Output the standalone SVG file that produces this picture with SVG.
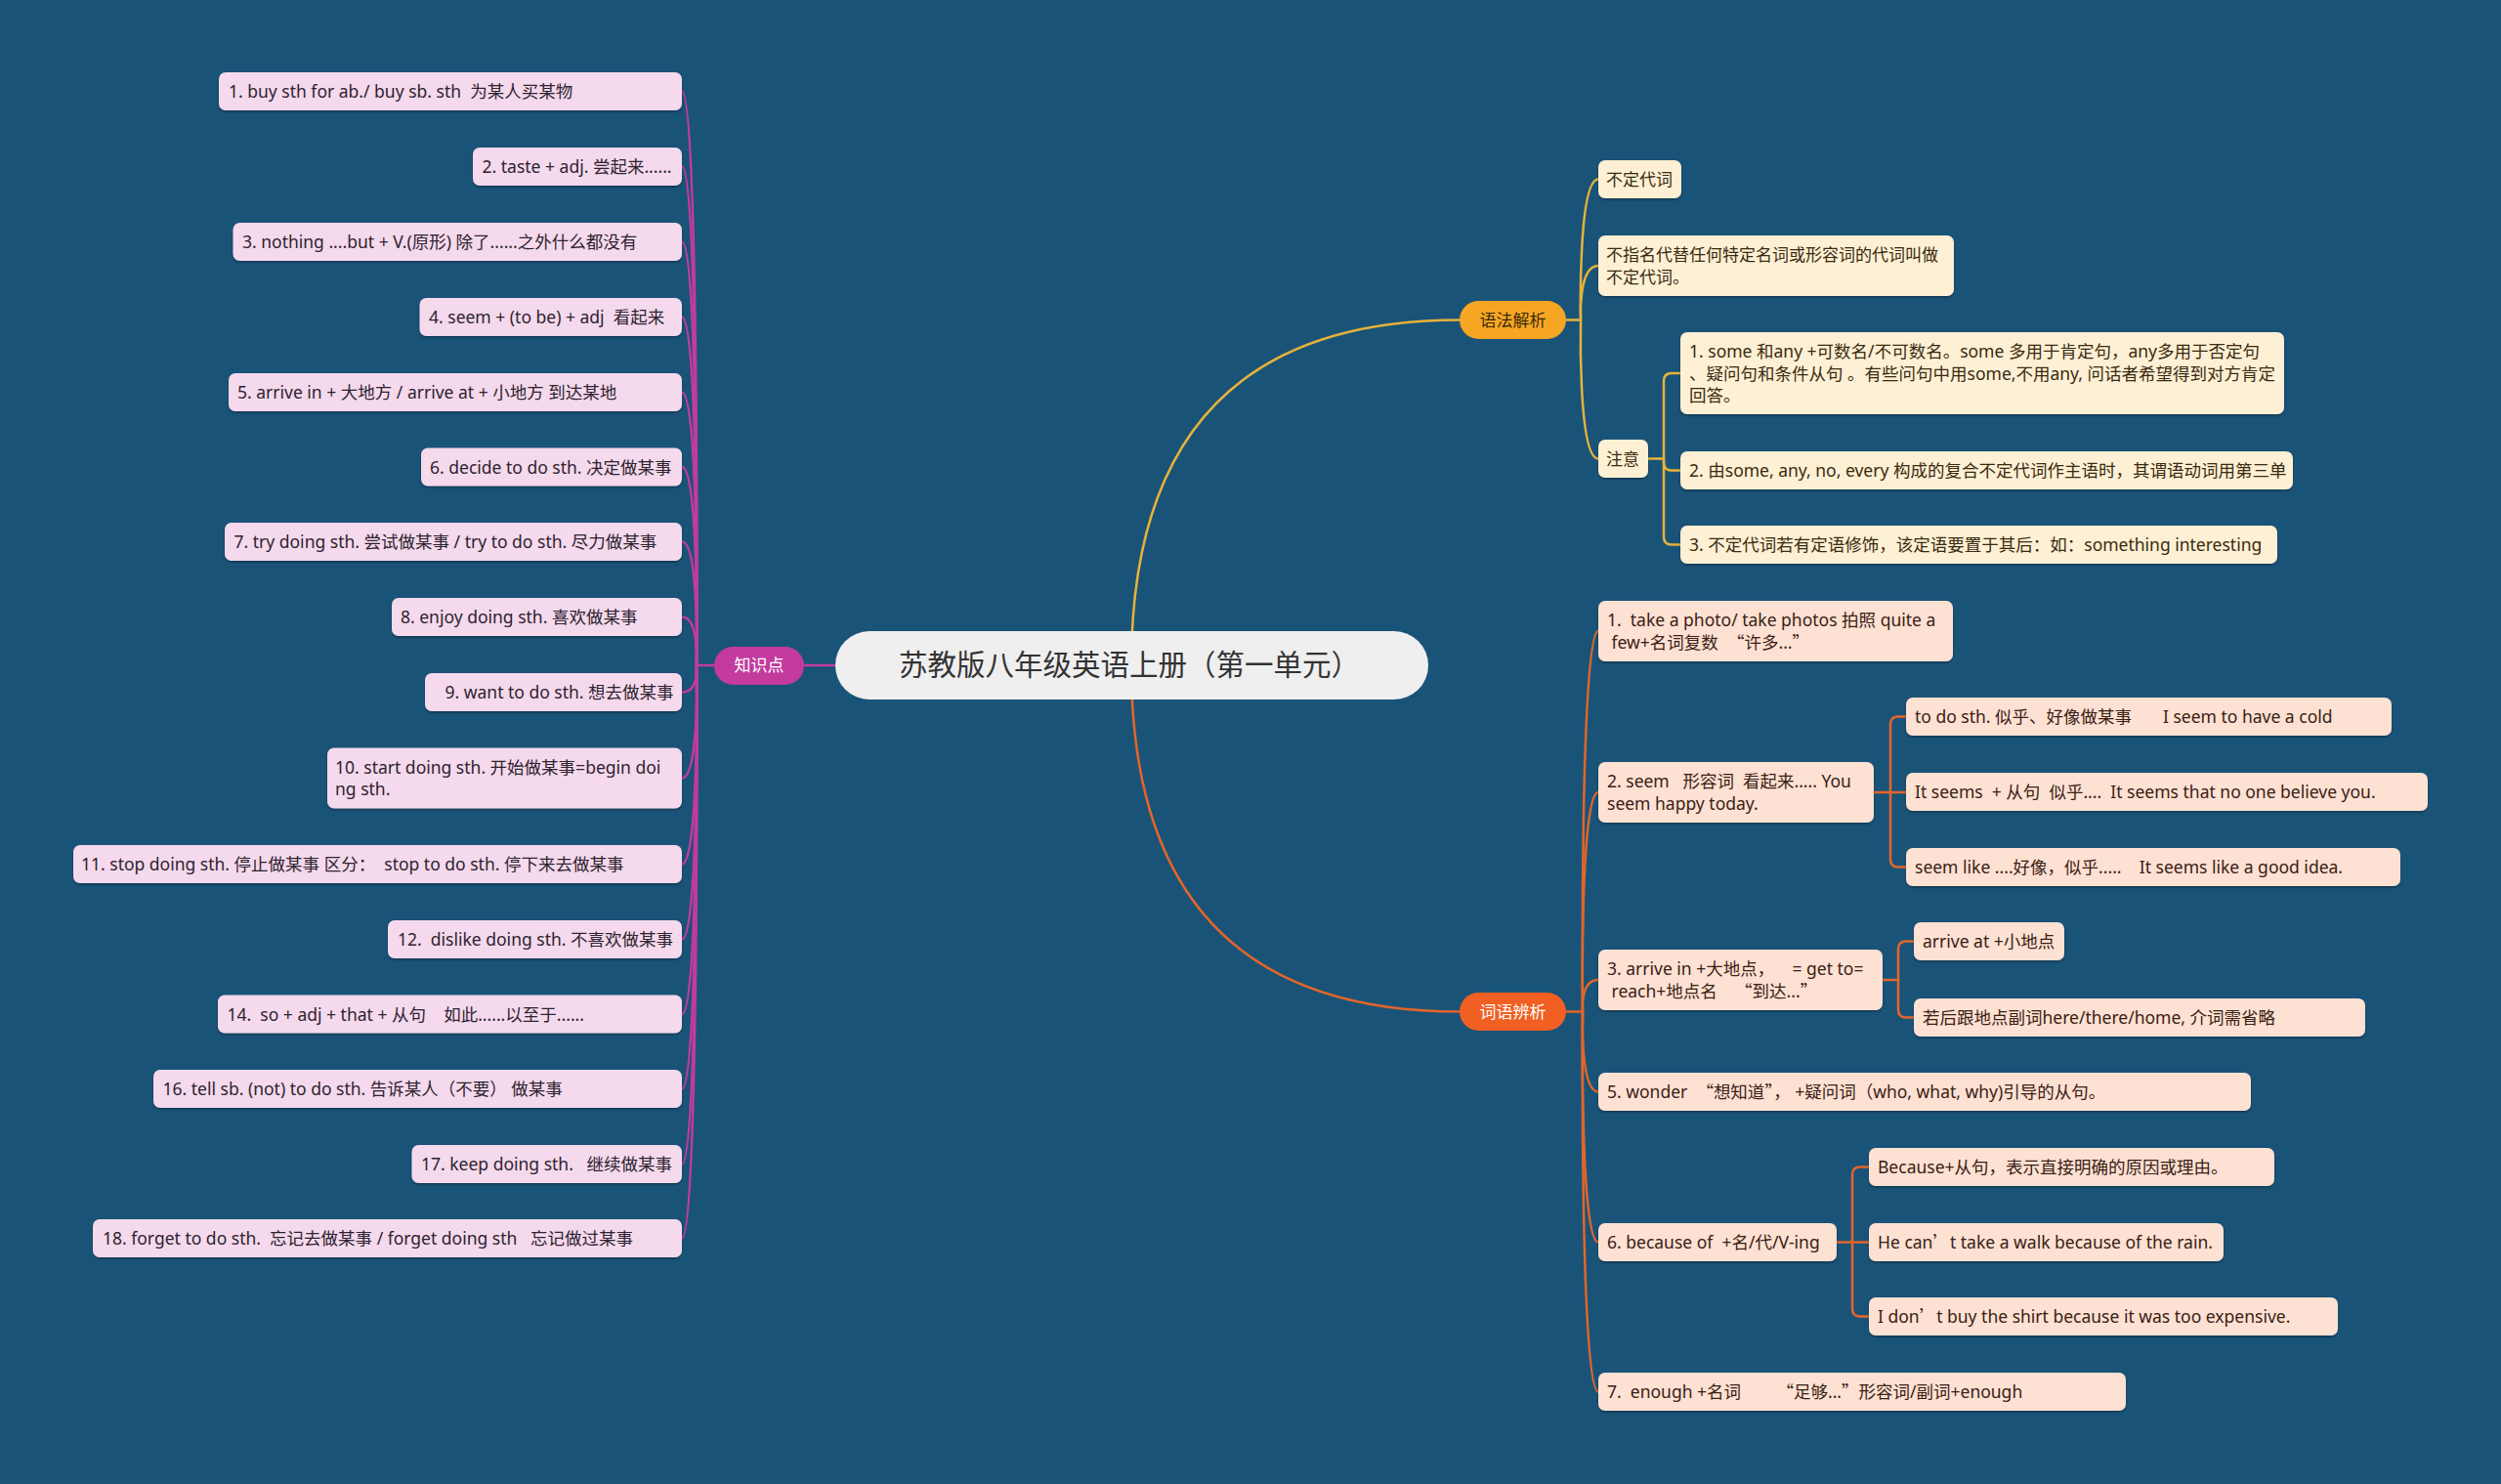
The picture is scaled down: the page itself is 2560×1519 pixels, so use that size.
<svg xmlns="http://www.w3.org/2000/svg" width="2560" height="1519" viewBox="0 0 2560 1519" xml:space="preserve">
<defs>
<filter id="sh" x="-5%" y="-20%" width="110%" height="150%">
<feDropShadow dx="0" dy="1.5" stdDeviation="1" flood-color="#000" flood-opacity="0.35"/>
</filter>
<style>
text{font-family:"Noto Sans","Noto Sans CJK SC",sans-serif;font-size:17.5px;white-space:pre;}
.c{font-family:"Noto Sans CJK SC",sans-serif;}
.pk rect{fill:#f5d9ec;filter:url(#sh);}
.pk text{fill:#2d2330;}
.yl rect{fill:#fdf0d4;filter:url(#sh);}
.yl text{fill:#3a2a10;}
.or rect{fill:#fde1d2;filter:url(#sh);}
.or text{fill:#3a2015;}
.cm{fill:none;stroke:#c23b9d;stroke-width:2.5;}
.cy{fill:none;stroke:#e6b23a;stroke-width:2.5;}
.co{fill:none;stroke:#e3652a;stroke-width:2.5;}
</style>
</defs>
<rect width="2560" height="1519" fill="#1a5378"/>

<g id="connectors">
<path class="cy" d="M1158,681 Q1158,327.5 1494,327.5"/>
<path class="co" d="M1158,681 Q1158,1035.5 1494,1035.5"/>
<path class="cm" d="M731,681 H1158"/>
<!-- left -->
<path class="cm" d="M731,681 H713 C713,681 716,93.5 698,93.5"/>
<path class="cm" d="M713,681 C713,681 716,170.5 698,170.5"/>
<path class="cm" d="M713,681 C713,681 716,247.5 698,247.5"/>
<path class="cm" d="M713,681 C713,681 716,324.5 698,324.5"/>
<path class="cm" d="M713,681 C713,681 716,401.5 698,401.5"/>
<path class="cm" d="M713,681 C713,681 716,478 698,478"/>
<path class="cm" d="M713,681 C713,681 716,554.5 698,554.5"/>
<path class="cm" d="M713,681 C713,681 716,631.5 698,631.5"/>
<path class="cm" d="M713,681 C713,681 716,708.5 698,708.5"/>
<path class="cm" d="M713,681 C713,681 716,796.5 698,796.5"/>
<path class="cm" d="M713,681 C713,681 716,884.5 698,884.5"/>
<path class="cm" d="M713,681 C713,681 716,961.5 698,961.5"/>
<path class="cm" d="M713,681 C713,681 716,1038 698,1038"/>
<path class="cm" d="M713,681 C713,681 716,1114.5 698,1114.5"/>
<path class="cm" d="M713,681 C713,681 716,1191.5 698,1191.5"/>
<path class="cm" d="M713,681 C713,681 716,1267.5 698,1267.5"/>
<!-- yellow -->
<path class="cy" d="M1603,327.5 H1618 C1618,327.5 1615,183.5 1636,183.5"/>
<path class="cy" d="M1618,327.5 C1618,327.5 1615,272 1636,272"/>
<path class="cy" d="M1618,327.5 C1618,327.5 1615,469.5 1636,469.5"/>
<path class="cy" d="M1687,469.5 H1703 V390 Q1703,382 1711,382 H1720"/>
<path class="cy" d="M1703,469.5 V473.5 Q1703,481.5 1711,481.5 H1720"/>
<path class="cy" d="M1703,469.5 V549.5 Q1703,557.5 1711,557.5 H1720"/>
<!-- orange -->
<path class="co" d="M1603,1035.5 H1620 C1620,1035.5 1617,646 1636,646"/>
<path class="co" d="M1620,1035.5 C1620,1035.5 1617,811 1636,811"/>
<path class="co" d="M1620,1035.5 C1620,1035.5 1617,1003 1636,1003"/>
<path class="co" d="M1620,1035.5 C1620,1035.5 1617,1117.5 1636,1117.5"/>
<path class="co" d="M1620,1035.5 C1620,1035.5 1617,1271.5 1636,1271.5"/>
<path class="co" d="M1620,1035.5 C1620,1035.5 1617,1424.5 1636,1424.5"/>
<path class="co" d="M1918,811 H1935 V741.5 Q1935,733.5 1943,733.5 H1951"/>
<path class="co" d="M1935,811 H1951"/>
<path class="co" d="M1935,811 V879.5 Q1935,887.5 1943,887.5 H1951"/>
<path class="co" d="M1927,1003 H1943 V971.5 Q1943,963.5 1951,963.5 H1959"/>
<path class="co" d="M1943,1003 V1033.5 Q1943,1041.5 1951,1041.5 H1959"/>
<path class="co" d="M1880,1271.5 H1896 V1202.5 Q1896,1194.5 1904,1194.5 H1913"/>
<path class="co" d="M1896,1271.5 H1913"/>
<path class="co" d="M1896,1271.5 V1339.5 Q1896,1347.5 1904,1347.5 H1913"/>
</g>

<g id="center"><rect x="855" y="646" width="607" height="70" rx="35" fill="#efefef"/><text x="1156" y="691" text-anchor="middle" style="font-size:29.5px" fill="#333">苏教版八年级英语上册（第一单元）</text></g>

<g id="b-zsd"><rect x="731" y="662" width="92" height="39" rx="19.5" fill="#c23b9d"/><text x="777" y="687" text-anchor="middle" fill="#fff" style="font-size:17px">知识点</text></g>
<g id="b-yf"><rect x="1494" y="308" width="109" height="39" rx="19.5" fill="#f6a623"/><text x="1548.5" y="333.5" text-anchor="middle" fill="#3a2a0a" style="font-size:17px">语法解析</text></g>
<g id="b-cy"><rect x="1494" y="1016" width="109" height="39" rx="19.5" fill="#f15f22"/><text x="1548.5" y="1041.5" text-anchor="middle" fill="#fff" style="font-size:17px">词语辨析</text></g>

<g class="pk">
<g id="k1"><rect x="224" y="74" width="474" height="39" rx="7"/><text x="234" y="100">1. buy sth for ab./ buy sb. sth  为某人买某物</text></g>
<g id="k2"><rect x="484" y="151" width="214" height="39" rx="7"/><text x="493.5" y="177">2. taste + adj. 尝起来......</text></g>
<g id="k3"><rect x="238.5" y="228" width="459.5" height="39" rx="7"/><text x="248" y="254">3. nothing ....but + V.(原形) 除了......之外什么都没有</text></g>
<g id="k4"><rect x="429.5" y="305" width="268.5" height="39" rx="7"/><text x="439" y="331">4. seem + (to be) + adj  看起来</text></g>
<g id="k5"><rect x="234" y="382" width="464" height="39" rx="7"/><text x="243" y="408">5. arrive in + 大地方 / arrive at + 小地方 到达某地</text></g>
<g id="k6"><rect x="431" y="458.5" width="267" height="39" rx="7"/><text x="440" y="484.5">6. decide to do sth. 决定做某事</text></g>
<g id="k7"><rect x="230" y="535" width="468" height="39" rx="7"/><text x="239.5" y="561">7. try doing sth. 尝试做某事 / try to do sth. 尽力做某事</text></g>
<g id="k8"><rect x="401" y="612" width="297" height="39" rx="7"/><text x="410" y="638">8. enjoy doing sth. 喜欢做某事</text></g>
<g id="k9"><rect x="435" y="689" width="263" height="39" rx="7"/><text x="455.5" y="715">9. want to do sth. 想去做某事</text></g>
<g id="k10"><rect x="335" y="765.5" width="363" height="62" rx="7"/><text x="343" y="791.5">10. start doing sth. 开始做某事=begin doi</text><text x="343" y="814">ng sth.</text></g>
<g id="k11"><rect x="75" y="865" width="623" height="39" rx="7"/><text x="83" y="891">11. stop doing sth. 停止做某事 区分：  stop to do sth. 停下来去做某事</text></g>
<g id="k12"><rect x="397" y="942" width="301" height="39" rx="7"/><text x="407" y="968">12.  dislike doing sth. 不喜欢做某事</text></g>
<g id="k14"><rect x="223" y="1018.5" width="475" height="39" rx="7"/><text x="232.5" y="1044.5">14.  so + adj + that + 从句    如此......以至于......</text></g>
<g id="k16"><rect x="157" y="1095" width="541" height="39" rx="7"/><text x="166.5" y="1121">16. tell sb. (not) to do sth. 告诉某人（不要） 做某事</text></g>
<g id="k17"><rect x="421.5" y="1172" width="276.5" height="39" rx="7"/><text x="431" y="1198">17. keep doing sth.   继续做某事</text></g>
<g id="k18"><rect x="95" y="1248" width="603" height="39" rx="7"/><text x="105" y="1274">18. forget to do sth.  忘记去做某事 / forget doing sth   忘记做过某事</text></g>
</g>

<g class="yl">
<g id="y1"><rect x="1636" y="164" width="85" height="39" rx="7"/><text x="1644" y="190" style="font-size:17px">不定代词</text></g>
<g id="y2"><rect x="1636" y="241" width="364" height="62" rx="7"/><text x="1644" y="267" style="font-size:17px">不指名代替任何特定名词或形容词的代词叫做</text><text x="1644" y="289.5" style="font-size:17px">不定代词。</text></g>
<g id="y3"><rect x="1636" y="450" width="51" height="39" rx="7"/><text x="1644" y="476" style="font-size:17px">注意</text></g>
<g id="y31"><rect x="1720" y="340" width="618" height="84" rx="7"/><text x="1729" y="366">1. some 和any +可数名/不可数名。some 多用于肯定句，any多用于否定句</text><text x="1729" y="388.5">、疑问句和条件从句 。有些问句中用some,不用any, 问话者希望得到对方肯定</text><text x="1729" y="411">回答。</text></g>
<g id="y32"><rect x="1720" y="462" width="627" height="39" rx="7"/><text x="1729" y="488">2. 由some, any, no, every 构成的复合不定代词作主语时，其谓语动词用第三单</text></g>
<g id="y33"><rect x="1720" y="538" width="611" height="39" rx="7"/><text x="1729" y="564">3. 不定代词若有定语修饰，该定语要置于其后：如：something interesting</text></g>
</g>

<g class="or">
<g id="o1"><rect x="1636" y="615" width="363" height="62" rx="7"/><text x="1645" y="641">1.  take a photo/ take photos 拍照 quite a</text><text x="1645" y="663.5"> few+名词复数  <tspan class="c">“</tspan>许多...<tspan class="c">”</tspan></text></g>
<g id="o2"><rect x="1636" y="780" width="282" height="62" rx="7"/><text x="1645" y="806">2. seem   形容词  看起来..... You</text><text x="1645" y="828.5">seem happy today.</text></g>
<g id="o21"><rect x="1951" y="714" width="497" height="39" rx="7"/><text x="1960" y="740">to do sth. 似乎、好像做某事       I seem to have a cold</text></g>
<g id="o22"><rect x="1951" y="791" width="534" height="39" rx="7"/><text x="1960" y="817">It seems  + 从句  似乎....  It seems that no one believe you.</text></g>
<g id="o23"><rect x="1951" y="868" width="506" height="39" rx="7"/><text x="1960" y="894">seem like ....好像，似乎.....    It seems like a good idea.</text></g>
<g id="o3"><rect x="1636" y="972" width="291" height="62" rx="7"/><text x="1645" y="998">3. arrive in +大地点，    = get to=</text><text x="1645" y="1020.5"> reach+地点名    <tspan class="c">“</tspan>到达...<tspan class="c">”</tspan></text></g>
<g id="o31"><rect x="1959" y="944" width="154" height="39" rx="7"/><text x="1968" y="970">arrive at +小地点</text></g>
<g id="o32"><rect x="1959" y="1022" width="462" height="39" rx="7"/><text x="1968" y="1048">若后跟地点副词here/there/home, 介词需省略</text></g>
<g id="o5"><rect x="1636" y="1098" width="668" height="39" rx="7"/><text x="1645" y="1124">5. wonder  <tspan class="c">“</tspan>想知道<tspan class="c">”</tspan>， +疑问词（who, what, why)引导的从句。</text></g>
<g id="o6"><rect x="1636" y="1252" width="244" height="39" rx="7"/><text x="1645" y="1278">6. because of  +名/代/V-ing</text></g>
<g id="o61"><rect x="1913" y="1175" width="415" height="39" rx="7"/><text x="1922" y="1201">Because+从句，表示直接明确的原因或理由。</text></g>
<g id="o62"><rect x="1913" y="1252" width="363" height="39" rx="7"/><text x="1922" y="1278">He can<tspan class="c">’</tspan>t take a walk because of the rain.</text></g>
<g id="o63"><rect x="1913" y="1328" width="480" height="39" rx="7"/><text x="1922" y="1354">I don<tspan class="c">’</tspan>t buy the shirt because it was too expensive.</text></g>
<g id="o7"><rect x="1636" y="1405" width="540" height="39" rx="7"/><text x="1645" y="1431">7.  enough +名词        <tspan class="c">“</tspan>足够...<tspan class="c">”</tspan>形容词/副词+enough</text></g>
</g>
</svg>
